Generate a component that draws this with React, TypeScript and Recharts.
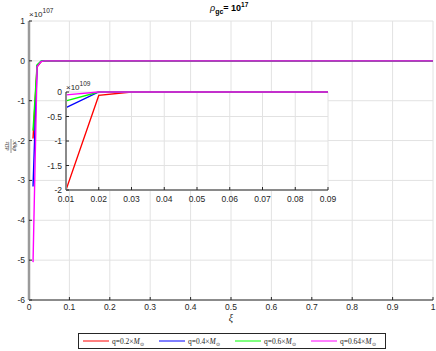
import { CartesianGrid, Line, LineChart, XAxis, YAxis } from 'recharts'

const W = 436
const H = 351

// main axes: xi (ξ) and values in units of 1e107
const xiMain = [0.01, 0.02, 0.03, 0.04, 0.05, 0.06, 0.07, 0.08, 0.09, 0.1, 0.2, 0.3, 0.4, 0.5, 0.6, 0.7, 0.8, 0.9, 1.0]
const redMain = [-1.95, -0.15, -0.02, 0, 0, 0, 0, 0, 0, 0, 0, 0, 0, 0, 0, 0, 0, 0, 0]
const blueMain = [-3.15, -0.12, -0.01, 0, 0, 0, 0, 0, 0, 0, 0, 0, 0, 0, 0, 0, 0, 0, 0]
const greenMain = [-1.75, -0.1, -0.01, 0, 0, 0, 0, 0, 0, 0, 0, 0, 0, 0, 0, 0, 0, 0, 0]
const magentaMain = [-5.05, -0.15, -0.02, 0, 0, 0, 0, 0, 0, 0, 0, 0, 0, 0, 0, 0, 0, 0, 0]

// inset: values in units of 1e109
const xiInset = [0.01, 0.02, 0.03, 0.04, 0.05, 0.06, 0.07, 0.08, 0.09]
const redInset = [-2, -0.07, 0, 0, 0, 0, 0, 0, 0]
const blueInset = [-0.32, 0, 0, 0, 0, 0, 0, 0, 0]
const greenInset = [-0.18, 0, 0, 0, 0, 0, 0, 0, 0]
const magentaInset = [-0.06, 0, 0, 0, 0, 0, 0, 0, 0]

const seriesKeys = ['red', 'blue', 'green', 'magenta']
const seriesColors = ['#ff0000', '#0000ff', '#00ff00', '#ff00ff']
const seriesQ = ['0.2', '0.4', '0.6', '0.64']

const mainXTicks = [0, 0.1, 0.2, 0.3, 0.4, 0.5, 0.6, 0.7, 0.8, 0.9, 1]
const mainYTicks = [-6, -5, -4, -3, -2, -1, 0, 1]
const insetXTicks = [0.01, 0.02, 0.03, 0.04, 0.05, 0.06, 0.07, 0.08, 0.09]
const insetYTicks = [-2, -1.5, -1, -0.5, 0]

const mainData = xiMain.map((x, i) => ({
  x,
  red: redMain[i],
  blue: blueMain[i],
  green: greenMain[i],
  magenta: magentaMain[i],
}))

const insetData = xiInset.map((x, i) => ({
  x,
  red: redInset[i],
  blue: blueInset[i],
  green: greenInset[i],
  magenta: magentaInset[i],
}))

const FONT = 'Liberation Sans, Arial, sans-serif'
const tickStyle = { fill: '#262626', fontSize: 8.5, fontFamily: FONT }
const noLabel = () => <g />

function Overlay() {
  const legendX = [83, 159, 235, 311]
  return (
    <svg width={W} height={H} style={{ position: 'absolute', left: 0, top: 0, pointerEvents: 'none' }}>
      <text x={210} y={11} fontFamily={FONT} fontSize={9} fill="#000">
        <tspan fontStyle="italic">ρ</tspan>
        <tspan fontWeight="bold" fontSize={7} dy={3}>gc</tspan>
        <tspan fontWeight="bold" dy={-3}>= 10</tspan>
        <tspan fontWeight="bold" fontSize={6.5} dy={-4}>17</tspan>
      </text>
      <text x={29} y={17} fontFamily={FONT} fontSize={8} fill="#262626">
        ×10<tspan fontSize={6.5} dy={-4}>107</tspan>
      </text>
      <text x={66} y={90} fontFamily={FONT} fontSize={8} fill="#262626">
        ×10<tspan fontSize={6.5} dy={-4}>109</tspan>
      </text>
      <text x={231} y={321} textAnchor="middle" fontFamily="Liberation Serif, serif" fontStyle="italic" fontSize={10} fill="#262626">ξ</text>
      <g transform="translate(11,146) rotate(-90)" fontFamily="Liberation Serif, serif" fontSize={5.5} fill="#262626" fontStyle="italic">
        <text x={0} y={-2} textAnchor="middle">dΩz</text>
        <line x1={-7} x2={7} y1={0} y2={0} stroke="#262626" strokeWidth={0.5} />
        <text x={0} y={5} textAnchor="middle">dηgc</text>
      </g>
      <rect x={78.5} y={333.5} width={307} height={15} fill="#fff" stroke="#262626" strokeWidth={1} />
      {seriesKeys.map((k, i) => (
        <g key={k}>
          <line x1={legendX[i]} x2={legendX[i] + 26} y1={341} y2={341} stroke={seriesColors[i]} strokeWidth={1} />
          <text x={legendX[i] + 29} y={344} fontFamily="Liberation Serif, serif" fontSize={7.5} fill="#262626">
            q=
            {seriesQ[i]}×<tspan fontStyle="italic">M</tspan>
            <tspan fontSize={5} dy={1.5}>⊙</tspan>
          </text>
        </g>
      ))}
    </svg>
  )
}

export default function App() {
  return (
    <div style={{ position: 'absolute', left: 0, top: 0, width: W, height: H, background: '#fff' }}>
      <div style={{ position: 'absolute', left: 0, top: 0 }}>
        <LineChart width={W} height={H} data={mainData} margin={{ top: 21, right: 3, bottom: 31, left: 0 }}>
          <CartesianGrid stroke="#e2e2e2" strokeWidth={1} />
          <XAxis
            dataKey="x"
            type="number"
            domain={[0, 1]}
            ticks={mainXTicks}
            height={20}
            tickSize={-3}
            tickMargin={7}
            tick={tickStyle}
            axisLine={{ stroke: '#262626' }}
            tickLine={{ stroke: '#262626' }}
            interval={0}
          />
          <XAxis
            xAxisId="top"
            orientation="top"
            dataKey="x"
            type="number"
            domain={[0, 1]}
            ticks={mainXTicks}
            height={0}
            tickSize={-3}
            tick={noLabel}
            axisLine={{ stroke: '#262626' }}
            tickLine={{ stroke: '#262626' }}
            interval={0}
          />
          <YAxis
            type="number"
            domain={[-6, 1]}
            ticks={mainYTicks}
            width={29}
            tickSize={-3}
            tickMargin={7}
            tick={tickStyle}
            axisLine={{ stroke: '#9a9a9a', strokeWidth: 2.5 }}
            tickLine={{ stroke: '#262626' }}
            interval={0}
          />
          <YAxis
            yAxisId="right"
            orientation="right"
            type="number"
            domain={[-6, 1]}
            ticks={mainYTicks}
            width={0}
            tickSize={-3}
            tick={noLabel}
            axisLine={{ stroke: '#262626' }}
            tickLine={{ stroke: '#262626' }}
            interval={0}
          />
          {seriesKeys.map((k, i) => (
            <Line
              key={k}
              dataKey={k}
              stroke={seriesColors[i]}
              strokeWidth={1.4}
              dot={false}
              isAnimationActive={false}
            />
          ))}
        </LineChart>
      </div>
      <div style={{ position: 'absolute', left: 66, top: 92, width: 262, height: 98, background: '#fff' }} />
      <div style={{ position: 'absolute', left: 0, top: 0 }}>
        <LineChart width={W} height={H} data={insetData} margin={{ top: 92, right: 108, bottom: 141, left: 36 }}>
          <CartesianGrid stroke="#e2e2e2" strokeWidth={1} />
          <XAxis
            dataKey="x"
            type="number"
            domain={[0.01, 0.09]}
            ticks={insetXTicks}
            height={20}
            tickSize={-3}
            tickMargin={9}
            tick={tickStyle}
            axisLine={{ stroke: '#8a8a8a', strokeWidth: 2 }}
            tickLine={{ stroke: '#262626' }}
            interval={0}
          />
          <XAxis
            xAxisId="top"
            orientation="top"
            dataKey="x"
            type="number"
            domain={[0.01, 0.09]}
            ticks={insetXTicks}
            height={0}
            tickSize={-3}
            tick={noLabel}
            axisLine={{ stroke: '#262626' }}
            tickLine={{ stroke: '#262626' }}
            interval={0}
          />
          <YAxis
            type="number"
            domain={[-2, 0]}
            ticks={insetYTicks}
            width={30}
            tickSize={-3}
            tickMargin={7}
            tick={tickStyle}
            axisLine={{ stroke: '#8a8a8a', strokeWidth: 2 }}
            tickLine={{ stroke: '#262626' }}
            interval={0}
          />
          <YAxis
            yAxisId="right"
            orientation="right"
            type="number"
            domain={[-2, 0]}
            ticks={insetYTicks}
            width={0}
            tickSize={-3}
            tick={noLabel}
            axisLine={{ stroke: '#262626' }}
            tickLine={{ stroke: '#262626' }}
            interval={0}
          />
          {seriesKeys.map((k, i) => (
            <Line
              key={k}
              dataKey={k}
              stroke={seriesColors[i]}
              strokeWidth={1.3}
              dot={false}
              isAnimationActive={false}
            />
          ))}
        </LineChart>
      </div>
      <Overlay />
    </div>
  )
}
